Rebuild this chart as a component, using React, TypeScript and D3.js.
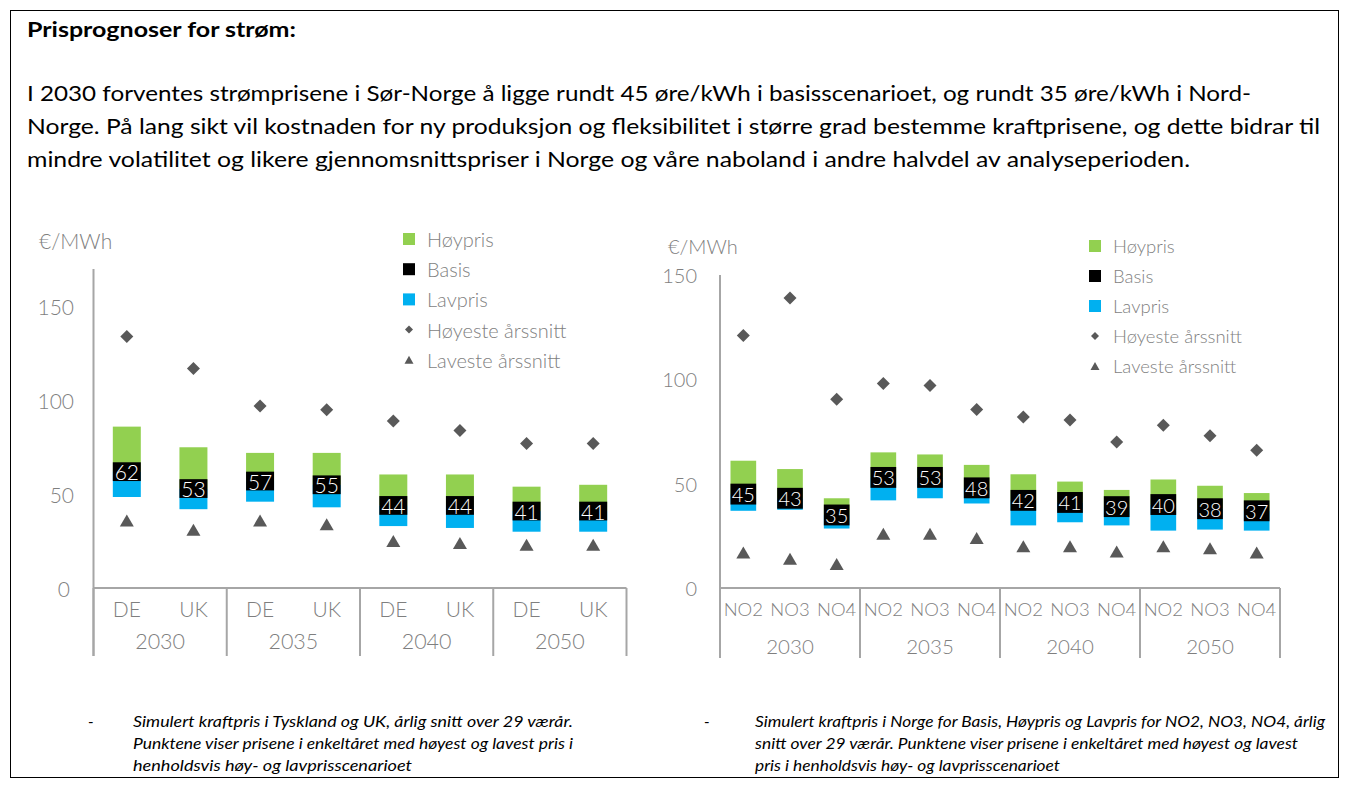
import React from "react";
import * as d3 from "d3";

// ---------- DATA ----------
const yearGroups = ["2030", "2035", "2040", "2050"];

const leftCategories = ["DE", "UK"];
const leftBasis = [62, 53, 57, 55, 44, 44, 41, 41];
const leftHoypris = [86, 75, 72, 72, 60.5, 60.5, 54, 55];
const leftLavpris = [48.5, 42, 46, 43, 33, 32, 30, 30];
const leftHoyeste = [134, 117, 97, 95, 89, 84, 77, 77];
const leftLaveste = [36, 31, 36, 34, 25, 24, 23, 23];

const rightCategories = ["NO2", "NO3", "NO4"];
const rightBasis = [45, 43, 35, 53, 53, 48, 42, 41, 39, 40, 38, 37];
const rightHoypris = [61, 57, 43, 65, 64, 59, 54.5, 51, 47, 52, 49, 45.5];
const rightLavpris = [37, 37.5, 28.5, 42, 43, 40.5, 30, 31.5, 30, 27.5, 28, 27.5];
const rightHoyeste = [121, 139, 90.5, 98, 97, 85.5, 82, 80.5, 70, 78, 73, 66];
const rightLaveste = [17, 14, 11.5, 26, 26, 24, 20, 20, 17.5, 20, 19, 17];

const yTicks = [0, 50, 100, 150];
const legendLabels = ["Høypris", "Basis", "Lavpris", "Høyeste årssnitt", "Laveste årssnitt"];
const unitLabel = "€/MWh";

const titleText = "Prisprognoser for strøm:";
const paragraphLines = [
  "I 2030 forventes strømprisene i Sør-Norge å ligge rundt 45 øre/kWh i basisscenarioet, og rundt 35 øre/kWh i Nord-",
  "Norge. På lang sikt vil kostnaden for ny produksjon og fleksibilitet i større grad bestemme kraftprisene, og dette bidrar til",
  "mindre volatilitet og likere gjennomsnittspriser i Norge og våre naboland i andre halvdel av analyseperioden.",
];
const leftNote = [
  "Simulert kraftpris i Tyskland og UK, årlig snitt over 29 værår.",
  "Punktene viser prisene i enkeltåret med høyest og lavest pris i",
  "henholdsvis høy- og lavprisscenarioet",
];
const rightNote = [
  "Simulert kraftpris i Norge for Basis, Høypris og Lavpris for NO2, NO3, NO4, årlig",
  "snitt over 29 værår. Punktene viser prisene i enkeltåret med høyest og lavest",
  "pris i henholdsvis høy- og lavprisscenarioet",
];

// ---------- STYLE ----------
const GREEN = "#92D050";
const BLUE = "#00B0F0";
const BLACK = "#000000";
const MARKER = "#595959";
const AXIS = "#A6A6A6";
const TEXT_GRAY = "#7F7F7F";
const FONT = "Lato, 'Open Sans', sans-serif";
const BAND_HALF = 5; // half height of the black basis band (value units)

type Geo = {
  x0: number; x1: number; pad: number;
  yBase: number; yTop: number; yMax: number;
  sepBottom: number;
  tickX: number; zeroX: number; zeroAnchor: string; tickSize: number;
  catY: number; catSize: number; yearY: number; yearSize: number;
  labelSize: number;
  unitX: number; unitY: number; unitSize: number;
  legX: number; legY: number; legStep: number; legSize: number; legBox: number;
  diamond: number; triW: number; triH: number;
};

function diamondPath(cx: number, cy: number, r: number) {
  return `M${cx},${cy - r}L${cx + r},${cy}L${cx},${cy + r}L${cx - r},${cy}Z`;
}
function trianglePath(cx: number, cy: number, w: number, h: number) {
  return `M${cx},${cy - h / 2}L${cx + w / 2},${cy + h / 2}L${cx - w / 2},${cy + h / 2}Z`;
}

function Panel(props: {
  cats: string[]; basis: number[]; hoy: number[]; lav: number[];
  maxv: number[]; minv: number[]; g: Geo;
}) {
  const { cats, basis, hoy, lav, maxv, minv, g } = props;
  const n = cats.length * yearGroups.length;
  const idx = d3.range(n);
  const x = d3.scaleBand<number>().domain(idx).range([g.x0, g.x1]).paddingInner(g.pad).paddingOuter(g.pad / 2);
  const y = d3.scaleLinear().domain([0, g.yMax]).range([g.yBase, g.yTop]);
  const bw = x.bandwidth();
  const step = x.step();
  const cx = (i: number) => (x(i) as number) + bw / 2;
  const groupW = step * cats.length;
  const seps = d3.range(yearGroups.length + 1).map((k) => g.x0 + k * groupW);

  return (
    <g fontFamily={FONT} fontWeight={300}>
      {/* unit label */}
      <text x={g.unitX} y={g.unitY} fontSize={g.unitSize} fill={TEXT_GRAY} dominantBaseline="central">{unitLabel}</text>
      {/* y ticks */}
      {yTicks.map((t) => (
        <text key={t} x={t === 0 ? g.zeroX : g.tickX} y={y(t)} fontSize={g.tickSize} fill={TEXT_GRAY}
          textAnchor={t === 0 ? g.zeroAnchor : "end"} dominantBaseline="central">{t}</text>
      ))}
      {/* axes */}
      <line x1={g.x0} x2={g.x0} y1={g.yTop} y2={g.sepBottom} stroke={AXIS} strokeWidth={2} />
      <line x1={g.x0} x2={g.x1} y1={g.yBase} y2={g.yBase} stroke={AXIS} strokeWidth={2} />
      {seps.map((sx, k) => (
        <line key={k} x1={sx} x2={sx} y1={g.yBase} y2={g.sepBottom} stroke={AXIS} strokeWidth={2} />
      ))}
      {/* category labels */}
      {idx.map((i) => (
        <text key={"c" + i} x={cx(i)} y={g.catY} fontSize={g.catSize} fill={TEXT_GRAY} textAnchor="middle"
          dominantBaseline="central">{cats[i % cats.length]}</text>
      ))}
      {yearGroups.map((yr, k) => (
        <text key={yr} x={seps[k] + groupW / 2} y={g.yearY} fontSize={g.yearSize} fill={TEXT_GRAY}
          textAnchor="middle" dominantBaseline="central">{yr}</text>
      ))}
      {/* bars */}
      {idx.map((i) => (
        <g key={"b" + i}>
          <rect x={x(i)} width={bw} y={y(basis[i])} height={y(lav[i]) - y(basis[i])} fill={BLUE} />
          <rect x={x(i)} width={bw} y={y(hoy[i])} height={y(basis[i]) - y(hoy[i])} fill={GREEN} />
          <rect x={x(i)} width={bw} y={y(basis[i] + BAND_HALF)} height={y(basis[i] - BAND_HALF) - y(basis[i] + BAND_HALF)} fill={BLACK} />
          <text x={cx(i)} y={y(basis[i])} fontSize={g.labelSize} fill="#FFFFFF" textAnchor="middle"
            dominantBaseline="central">{basis[i]}</text>
        </g>
      ))}
      {/* markers */}
      {idx.map((i) => (
        <path key={"d" + i} d={diamondPath(cx(i), y(maxv[i]), g.diamond)} fill={MARKER} />
      ))}
      {idx.map((i) => (
        <path key={"t" + i} d={trianglePath(cx(i), y(minv[i]), g.triW, g.triH)} fill={MARKER} />
      ))}
      {/* legend */}
      {legendLabels.map((lab, k) => {
        const ly = g.legY + k * g.legStep;
        const mx = g.legX - 12 - g.legBox / 2;
        let marker;
        if (k === 0) marker = <rect x={mx - g.legBox / 2} y={ly - g.legBox / 2} width={g.legBox} height={g.legBox} fill={GREEN} />;
        else if (k === 1) marker = <rect x={mx - g.legBox / 2} y={ly - g.legBox / 2} width={g.legBox} height={g.legBox} fill={BLACK} />;
        else if (k === 2) marker = <rect x={mx - g.legBox / 2} y={ly - g.legBox / 2} width={g.legBox} height={g.legBox} fill={BLUE} />;
        else if (k === 3) marker = <path d={diamondPath(mx, ly, 4)} fill={MARKER} />;
        else marker = <path d={trianglePath(mx, ly, 9, 8)} fill={MARKER} />;
        return (
          <g key={lab}>
            {marker}
            <text x={g.legX} y={ly} fontSize={g.legSize} fill={TEXT_GRAY} dominantBaseline="central">{lab}</text>
          </g>
        );
      })}
    </g>
  );
}

const leftGeo: Geo = {
  x0: 93.5, x1: 626.5, pad: 0.58,
  yBase: 588, yTop: 269, yMax: 170,
  sepBottom: 656,
  tickX: 74, zeroX: 70, zeroAnchor: "end", tickSize: 21,
  catY: 608, catSize: 21, yearY: 641, yearSize: 21.5,
  labelSize: 21,
  unitX: 39, unitY: 240, unitSize: 21,
  legX: 427, legY: 239, legStep: 30.2, legSize: 20, legBox: 12,
  diamond: 6.5, triW: 14, triH: 12,
};

const rightGeo: Geo = {
  x0: 720, x1: 1280, pad: 0.45,
  yBase: 588, yTop: 275, yMax: 150,
  sepBottom: 658,
  tickX: 697, zeroX: 697, zeroAnchor: "end", tickSize: 20,
  catY: 609, catSize: 18.5, yearY: 646, yearSize: 20.5,
  labelSize: 20,
  unitX: 668, unitY: 246, unitSize: 20,
  legX: 1113, legY: 246, legStep: 30, legSize: 18.5, legBox: 12,
  diamond: 6.5, triW: 14, triH: 12,
};

export default function App() {
  return (
    <svg width={1348} height={790} style={{ position: "absolute", left: 0, top: 0, background: "#FFFFFF" }}
      xmlns="http://www.w3.org/2000/svg">
      <rect x={0} y={0} width={1348} height={790} fill="#FFFFFF" />
      <rect x={10.5} y={10.5} width={1328} height={767} fill="none" stroke="#000" strokeWidth={1} />
      <text x={27} y={37} fontFamily="Lato, 'Open Sans', sans-serif" fontWeight={700} fontSize={21}
        textLength={269} lengthAdjust="spacingAndGlyphs">{titleText}</text>
      {paragraphLines.map((line, i) => (
        <text key={i} x={27} y={101 + i * 33} fontFamily="Lato, 'Open Sans', sans-serif" fontSize={22}
          textLength={[1224, 1293, 1163][i]} lengthAdjust="spacingAndGlyphs">{line}</text>
      ))}
      <Panel cats={leftCategories} basis={leftBasis} hoy={leftHoypris} lav={leftLavpris}
        maxv={leftHoyeste} minv={leftLaveste} g={leftGeo} />
      <Panel cats={rightCategories} basis={rightBasis} hoy={rightHoypris} lav={rightLavpris}
        maxv={rightHoyeste} minv={rightLaveste} g={rightGeo} />
      {/* footnotes */}
      <text x={88} y={727} fontFamily="Lato, sans-serif" fontSize={15}>-</text>
      {leftNote.map((line, i) => (
        <text key={i} x={133} y={727 + i * 22} fontFamily="Lato, sans-serif" fontStyle="italic" fontSize={15}
          textLength={[440, 440, 279][i]} lengthAdjust="spacingAndGlyphs">{line}</text>
      ))}
      <text x={704} y={727} fontFamily="Lato, sans-serif" fontSize={15}>-</text>
      {rightNote.map((line, i) => (
        <text key={i} x={755} y={727 + i * 22} fontFamily="Lato, sans-serif" fontStyle="italic" fontSize={15}
          textLength={[570, 543, 305][i]} lengthAdjust="spacingAndGlyphs">{line}</text>
      ))}
    </svg>
  );
}
